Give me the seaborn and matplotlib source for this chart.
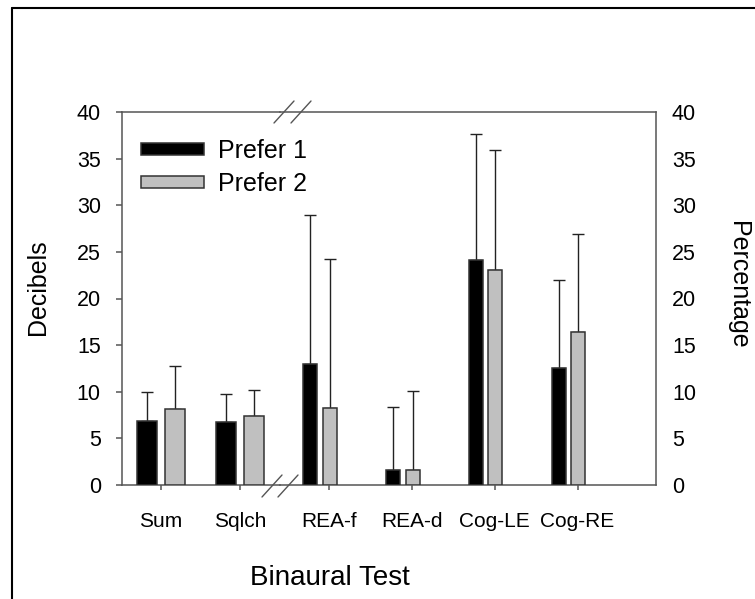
import numpy as np
import pandas as pd
import matplotlib
matplotlib.use("Agg")
import matplotlib.pyplot as plt
import seaborn as sns
from matplotlib.lines import Line2D
from matplotlib.patches import Patch

# ---------------- data ----------------
tests = ["Sum", "Sqlch", "REA-f", "REA-d", "Cog-LE", "Cog-RE"]
groups = ["Prefer 1", "Prefer 2"]
prefer1 = [6.9, 6.8, 13.0, 1.6, 24.1, 12.6]
sd1 = [3.1, 2.95, 16.0, 6.8, 13.5, 9.4]
prefer2 = [8.1, 7.4, 8.3, 1.6, 23.1, 16.4]
sd2 = [4.7, 2.75, 15.9, 8.5, 12.8, 10.5]
yticks = [0, 5, 10, 15, 20, 25, 30, 35, 40]
left_tests = tests[:2]
right_tests = tests[2:]

df = pd.DataFrame({
    "test": tests * 2,
    "group": [groups[0]] * len(tests) + [groups[1]] * len(tests),
    "value": prefer1 + prefer2,
    "sd": sd1 + sd2,
})
sd_lookup = {(t, g): s for t, g, s in zip(df["test"], df["group"], df["sd"])}

# ---------------- style ----------------
sns.set_style("ticks")
plt.rcParams['font.family'] = ['Liberation Sans', 'DejaVu Sans']
plt.rcParams['text.color'] = 'black'
plt.rcParams['xtick.color'] = 'black'
plt.rcParams['ytick.color'] = 'black'

W, H = 755, 599
fig = plt.figure(figsize=(W / 100, H / 100), dpi=100)


def fx(px):
    return px / W


def fy(py):
    return 1 - py / H


L, S, R, T, B = 122, 280, 656, 112, 485
ax1 = fig.add_axes([fx(L), fy(B), (S - L) / W, (B - T) / H])
ax2 = fig.add_axes([fx(S), fy(B), (R - S) / W, (B - T) / H])
ax2.patch.set_visible(False)

pal = {"Prefer 1": "black", "Prefer 2": "#c0c0c0"}
spine_c = "#555555"


def draw(ax, order, width, gap):
    sub = df[df["test"].isin(order)]
    sns.barplot(data=sub, x="test", y="value", hue="group", order=order,
                hue_order=groups, palette=pal, width=width, gap=gap,
                errorbar=None, edgecolor="#333333", linewidth=1.1,
                legend=False, ax=ax, zorder=3)
    for cont, g in zip(ax.containers, groups):
        for bar, t in zip(cont, order):
            x = bar.get_x() + bar.get_width() / 2
            h = bar.get_height()
            ax.errorbar([x], [h], yerr=[[0], [sd_lookup[(t, g)]]], fmt="none",
                        ecolor="#222222", elinewidth=1.0, capsize=4.5,
                        capthick=1.0, zorder=2)


draw(ax1, left_tests, 0.71, 0.29)
draw(ax2, right_tests, 0.47, 0.28)

for ax in (ax1, ax2):
    ax.set_ylim(0, 40)
    ax.set_yticks(yticks)
    ax.set_xlabel("")
    ax.set_ylabel("")
    for sp in ax.spines.values():
        sp.set_color(spine_c)
        sp.set_linewidth(1.1)
    ax.tick_params(axis="x", direction="out", length=3.6, width=1.1,
                   color=spine_c, pad=15.5, labelsize=15)

ax1.set_xlim(-0.494, 1.506)
ax2.set_xlim(-0.483, 4.057)
ax2.set_xticks([i + 0.11 for i in range(len(right_tests))])
ax2.set_xticklabels(right_tests)

ax1.spines["right"].set_visible(False)
ax2.spines["left"].set_visible(False)
ax1.tick_params(axis="y", direction="out", length=4.3, width=1.1,
                color=spine_c, pad=11, labelsize=15.5)
ax2.yaxis.tick_right()
ax2.tick_params(axis="y", length=0, pad=11.5, labelsize=15.5)

for ax in (ax1, ax2):
    for lab in ax.get_xticklabels() + ax.get_yticklabels():
        lab.set_color("black")

# axis titles
fig.text(fx(38), fy(287), "Decibels", rotation=90, ha="center", va="center",
         fontsize=18)
fig.text(fx(738), fy(285), "Percentage", rotation=270, ha="center",
         va="center", fontsize=18)
fig.text(fx(330), fy(578), "Binaural Test", ha="center", va="center",
         fontsize=20)

# legend
handles = [Patch(facecolor=pal[g], edgecolor="#333333", linewidth=1.1)
           for g in groups]
fig.legend(handles, groups, loc="upper left",
           bbox_to_anchor=(fx(141), fy(139)), frameon=False, fontsize=18,
           handlelength=2.5, handleheight=0.4, handletextpad=0.56,
           labelspacing=0.35, borderpad=0, borderaxespad=0)

# axis break marks
for cx, cy in [(284, 112), (301, 112), (272, 486), (288, 486)]:
    fig.add_artist(Line2D([fx(cx - 10), fx(cx + 10)], [fy(cy + 11), fy(cy - 11)],
                          color=spine_c, lw=1.0))

# figure border
fig.add_artist(Line2D([fx(12), fx(12)], [fy(8), fy(599)], color="black", lw=1.5))
fig.add_artist(Line2D([fx(12), fx(755)], [fy(8), fy(8)], color="black", lw=1.5))

fig.savefig("out.png", dpi=100)
